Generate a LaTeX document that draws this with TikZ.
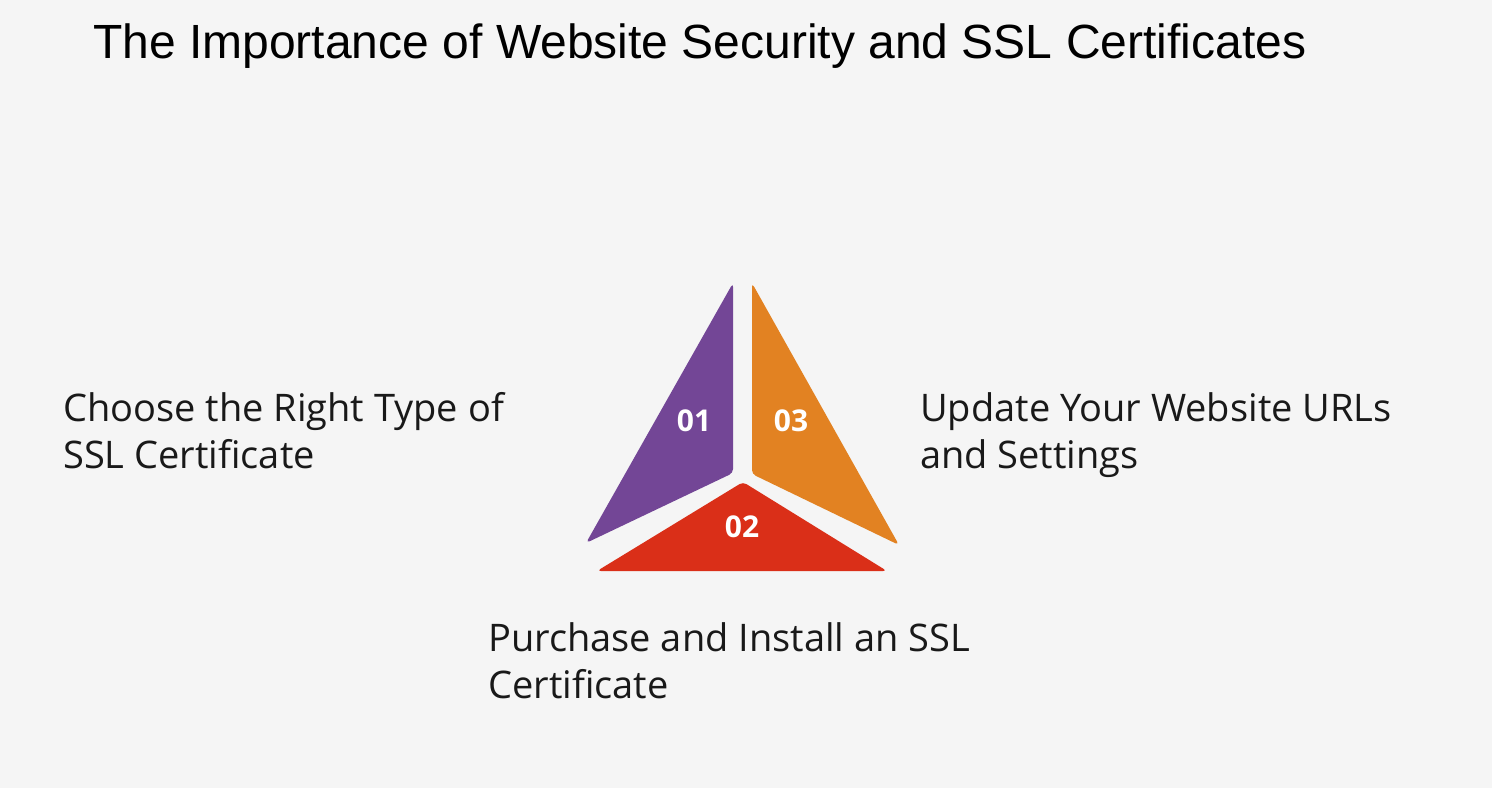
\documentclass[tikz,border=0pt]{standalone}
\usepackage{fontspec}
\setmainfont{Open Sans}
\newfontfamily\titlefont{Liberation Sans}
\begin{document}
\begin{tikzpicture}[x=1pt,y=-1pt,
  lbl/.style={anchor=north west,align=left,font=\fontsize{38}{47}\selectfont,text=black!90,inner sep=0pt},
  num/.style={text=white,font=\bfseries\fontsize{30}{32}\selectfont},
  piece/.style={rounded corners=4pt}]
\fill[gray!8] (0,0) rectangle (1492,788);
\useasboundingbox (0,0) rectangle (1492,788);
\node[anchor=west,inner sep=0pt,font=\titlefont\fontsize{48}{56}\selectfont] (title) at (93,46) {The Importance of Website Security and SSL Certificates};
\fill[piece,fill={rgb,255:red,115;green,70;blue,150}] (733,283) -- (733,473) -- (586,543) -- cycle;
\fill[piece,fill={rgb,255:red,226;green,130;blue,34}] (752,283) -- (752,474) -- (899,545) -- cycle;
\fill[piece,fill={rgb,255:red,218;green,47;blue,24}] (743,482) -- (887,571) -- (597,571) -- cycle;
\node[num] (n1) at (694,421) {01};
\node[num] (n3) at (791,421) {03};
\node[num] (n2) at (742,527) {02};
\node[lbl] (l1) at (63,392) {Choose the Right Type of\\SSL Certificate};
\node[lbl] (l3) at (920,392) {Update Your Website URLs\\and Settings};
\node[lbl] (l2) at (488,622) {Purchase and Install an SSL\\Certificate};
\end{tikzpicture}
\end{document}
